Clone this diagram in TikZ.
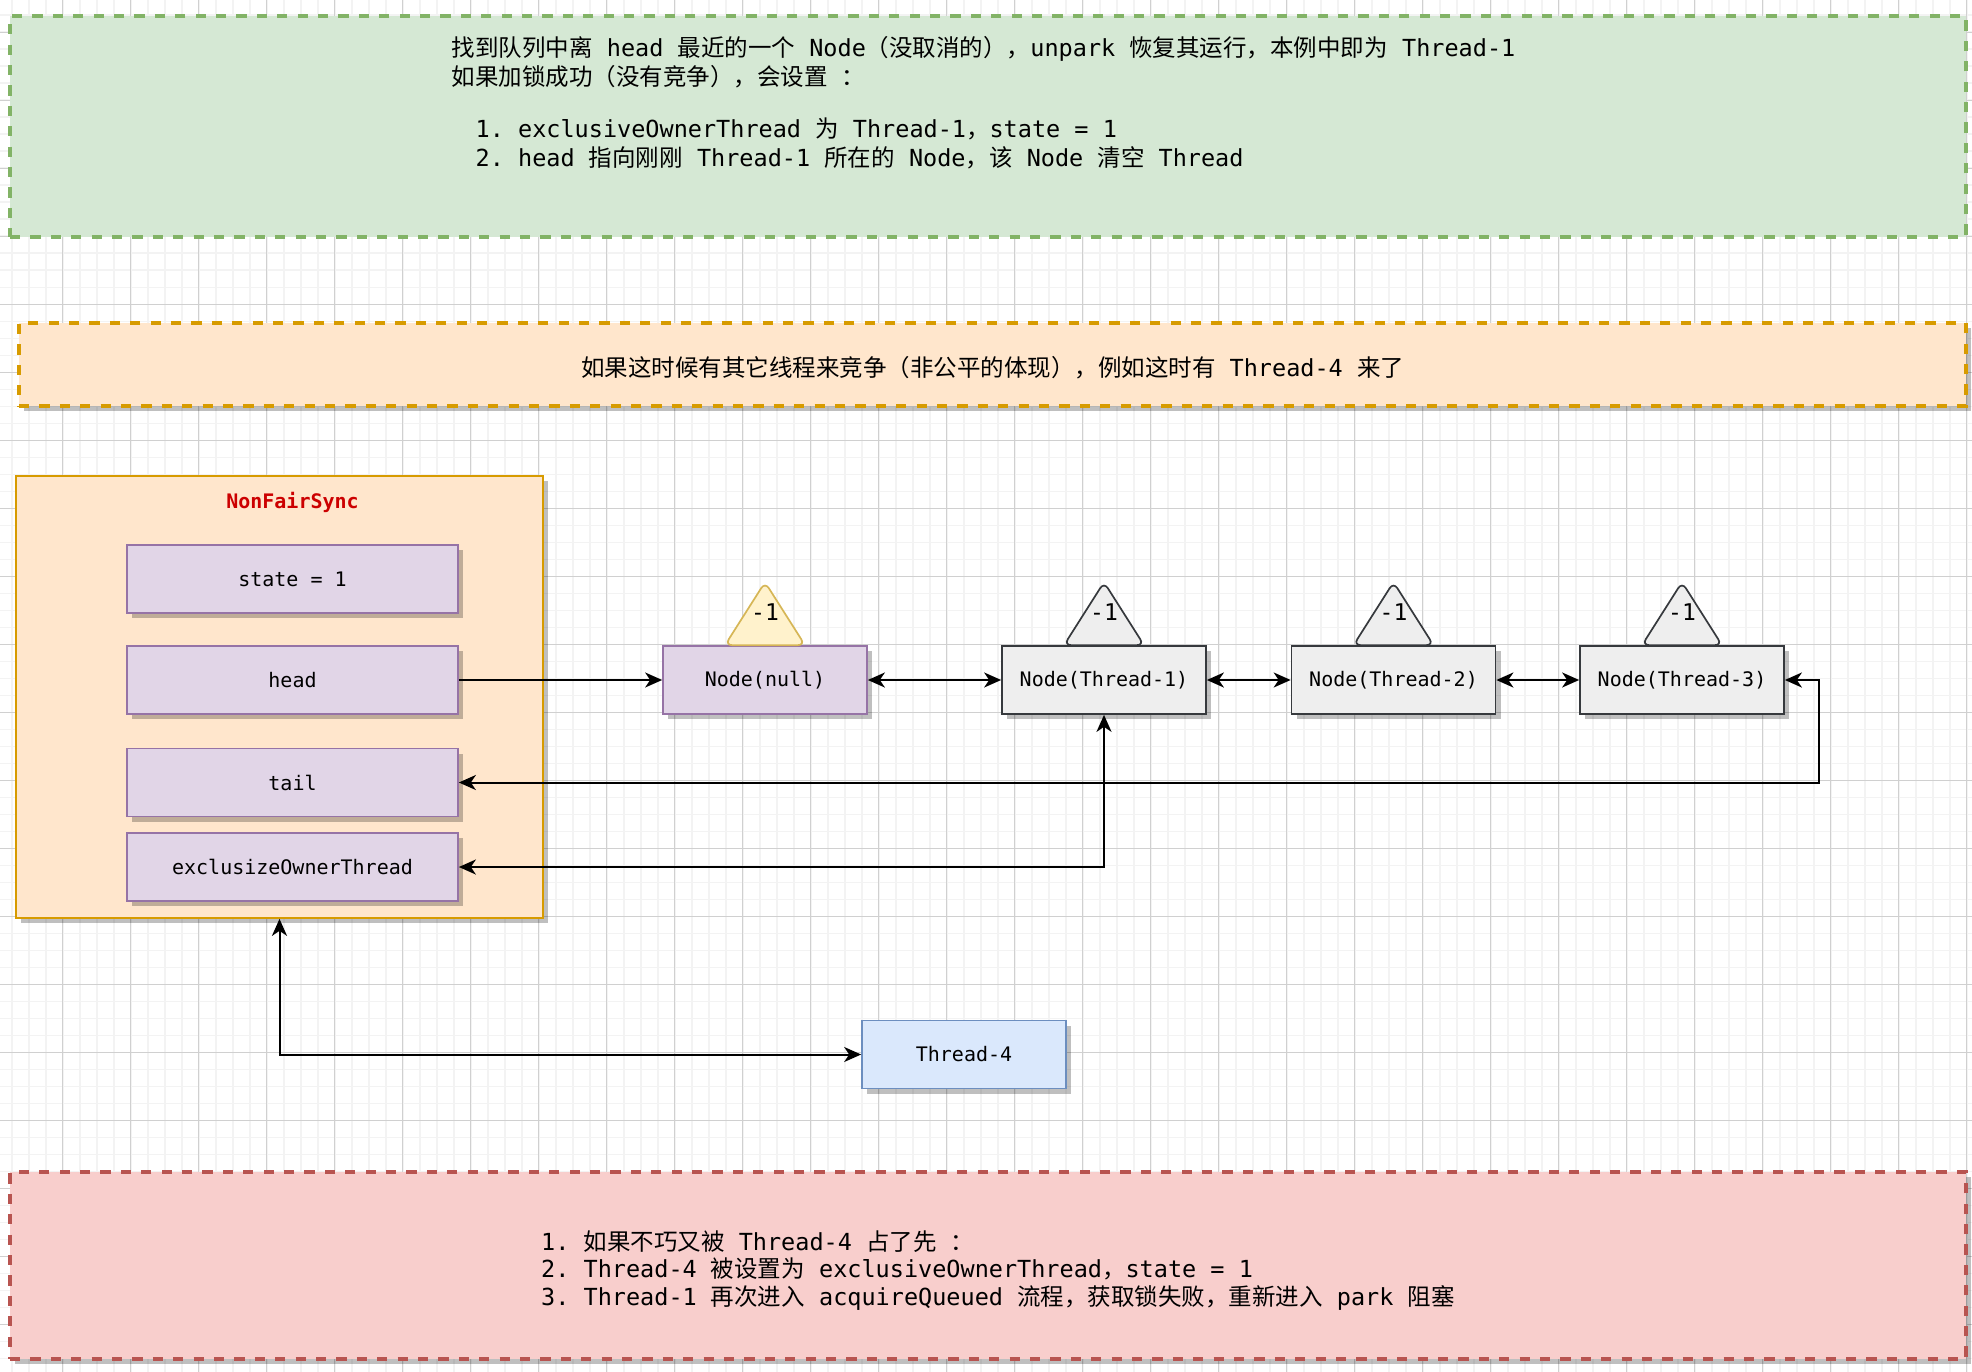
\documentclass[tikz,border=0pt]{standalone}
\usepackage{fontspec}
\setmonofont{DejaVu Sans Mono}
\newfontfamily\cjk{Noto Sans CJK SC}
\usetikzlibrary{arrows.meta,shadows,calc}
\definecolor{grfill}{HTML}{D5E8D4}\definecolor{grstroke}{HTML}{82B366}
\definecolor{orfill}{HTML}{FFE6CC}\definecolor{orstroke}{HTML}{D79B00}
\definecolor{rdfill}{HTML}{F8CECC}\definecolor{rdstroke}{HTML}{B85450}
\definecolor{pfill}{HTML}{E1D5E7}\definecolor{pstroke}{HTML}{9673A6}
\definecolor{gyfill}{HTML}{EEEEEE}\definecolor{gystroke}{HTML}{36393D}
\definecolor{yfill}{HTML}{FFF2CC}\definecolor{ystroke}{HTML}{D6B656}
\definecolor{bfill}{HTML}{DAE8FC}\definecolor{bstroke}{HTML}{6C8EBF}
\definecolor{titlered}{HTML}{CC0000}
\definecolor{gridminor}{HTML}{F3F3F3}
\definecolor{gridmajor}{HTML}{D0D0D0}
\newcommand\zh[1]{{\cjk #1}}
\tikzset{
  cls/.tip={Stealth[length=17pt,width=15pt,inset=5pt]},
  conn/.style={line width=2pt, draw=black},
  shad/.style={drop shadow={shadow xshift=5pt,shadow yshift=-5pt,opacity=0.25,fill=black}},
  box/.style={draw, line width=1.7pt, minimum width=204pt, minimum height=68pt, inner sep=0pt,
    font=\ttfamily\fontsize{20}{24}\selectfont, shad},
  purplebox/.style={box, draw=pstroke, fill=pfill},
  greybox/.style={box, draw=gystroke, fill=gyfill},
  bluebox/.style={box, draw=bstroke, fill=bfill},
  fieldbox/.style={purplebox, minimum width=331pt},
  dashbox/.style={line width=3.4pt, dash pattern=on 10.2pt off 10.2pt, inner sep=0pt},
  txt/.style={font=\ttfamily\fontsize{23.5}{29}\selectfont, inner sep=0pt, anchor=base west},
  tri/.style={line width=1.7pt, rounded corners=7pt},
  trilab/.style={font=\ttfamily\fontsize{23}{27}\selectfont, inner sep=0pt},
  minorgrid/.style={draw=gridminor, line width=1.6pt},
  majorgrid/.style={draw=gridmajor, line width=1pt},
}
\begin{document}
\begin{tikzpicture}[x=1pt,y=-1pt]
\path[use as bounding box] (0,0) rectangle (1972,1372);
\fill[white] (0,0) rectangle (1972,1372);
% background grid
\begin{scope}
\clip (0,0) rectangle (1972,1372);
\foreach \k in {0,...,116} \draw[minorgrid] ({-5.3+17*\k},0) -- ({-5.3+17*\k},1372);
\foreach \k in {0,...,81} \draw[minorgrid] (0,{-1.7+17*\k}) -- (1972,{-1.7+17*\k});
\foreach \k in {0,...,29} \draw[majorgrid] ({-5.3+68*\k},0) -- ({-5.3+68*\k},1372);
\foreach \k in {0,...,21} \draw[majorgrid] (0,{-35.7+68*\k}) -- (1972,{-35.7+68*\k});
\end{scope}

% top green note
\node[dashbox, draw=grstroke, fill=grfill, minimum width=1956pt, minimum height=221pt] (green) at (988,126.5) {};
\node[txt] (g1) at (451.6,56.5) {\zh{找到队列中离} head \zh{最近的一个} Node\zh{（没取消的），}unpark \zh{恢复其运行，本例中即为} Thread-1};
\node[txt] (g2) at (451.6,85.5) {\zh{如果加锁成功（没有竞争），会设置} \zh{：}};
\node[txt] (g3) at (475.5,137.5) {1. exclusiveOwnerThread \zh{为} Thread-1\zh{，}state = 1};
\node[txt] (g4) at (475.5,166.5) {2. head \zh{指向刚刚} Thread-1 \zh{所在的} Node\zh{，该} Node \zh{清空} Thread};

% orange banner
\node[dashbox, shad, draw=orstroke, fill=orfill, minimum width=1947pt, minimum height=83pt] (banner) at (992.5,364.5) {};
\node[txt, anchor=base] (b1) at (992.5,376.5) {\zh{如果这时候有其它线程来竞争（非公平的体现），例如这时有} Thread-4 \zh{来了}};

% bottom red note
\node[dashbox, shad, draw=rdstroke, fill=rdfill, minimum width=1956pt, minimum height=187pt] (red) at (988,1265.5) {};
\node[txt] (r1) at (541,1250) {1. \zh{如果不巧又被} Thread-4 \zh{占了先} \zh{：}};
\node[txt] (r2) at (541,1277.5) {2. Thread-4 \zh{被设置为} exclusiveOwnerThread\zh{，}state = 1};
\node[txt] (r3) at (541,1305) {3. Thread-1 \zh{再次进入} acquireQueued \zh{流程，获取锁失败，重新进入} park \zh{阻塞}};

% NonFairSync container
\node[draw=orstroke, fill=orfill, line width=1.7pt, shad, minimum width=527pt, minimum height=442pt, inner sep=0pt] (nfs) at (279.5,697) {};
\node[font=\ttfamily\bfseries\fontsize{20}{24}\selectfont, text=titlered, inner sep=0pt] (title) at (292.5,502) {NonFairSync};
\node[fieldbox] (state) at (292.5,579) {state = 1};
\node[fieldbox] (head) at (292.5,680) {head};
\node[fieldbox] (tail) at (292.5,782.5) {tail};
\node[fieldbox] (excl) at (292.5,867) {exclusizeOwnerThread};

% queue nodes
\node[purplebox] (nul) at (765,680) {Node(null)};
\node[greybox] (t1) at (1104,680) {Node(Thread-1)};
\node[greybox] (t2) at (1393.5,680) {Node(Thread-2)};
\node[greybox] (t3) at (1682,680) {Node(Thread-3)};
\node[bluebox] (t4) at (964,1054.5) {Thread-4};

% waitStatus triangles
\foreach \n/\fc/\dc in {nul/yfill/ystroke, t1/gyfill/gystroke, t2/gyfill/gystroke, t3/gyfill/gystroke} {
  \draw[tri, draw=\dc, fill=\fc] ($(\n.north)+(-40,0)$) -- ($(\n.north)+(0,-63)$) -- ($(\n.north)+(40,0)$) -- cycle;
  \node[trilab] (\n-ws) at ($(\n.north)+(0,-33)$) {-1};
}

% connectors
\draw[conn, -{cls}] (head.east) -- (nul.west);
\draw[conn, {cls}-{cls}] (nul.east) -- (t1.west);
\draw[conn, {cls}-{cls}] (t1.east) -- (t2.west);
\draw[conn, {cls}-{cls}] (t2.east) -- (t3.west);
\draw[conn, {cls}-{cls}] (t3.east) -- ++(34,0) |- (tail.east);
\draw[conn, {cls}-{cls}] (t1.south) |- (excl.east);
\draw[conn, {cls}-{cls}] (t4.west) -| (nfs.south);
\end{tikzpicture}
\end{document}
